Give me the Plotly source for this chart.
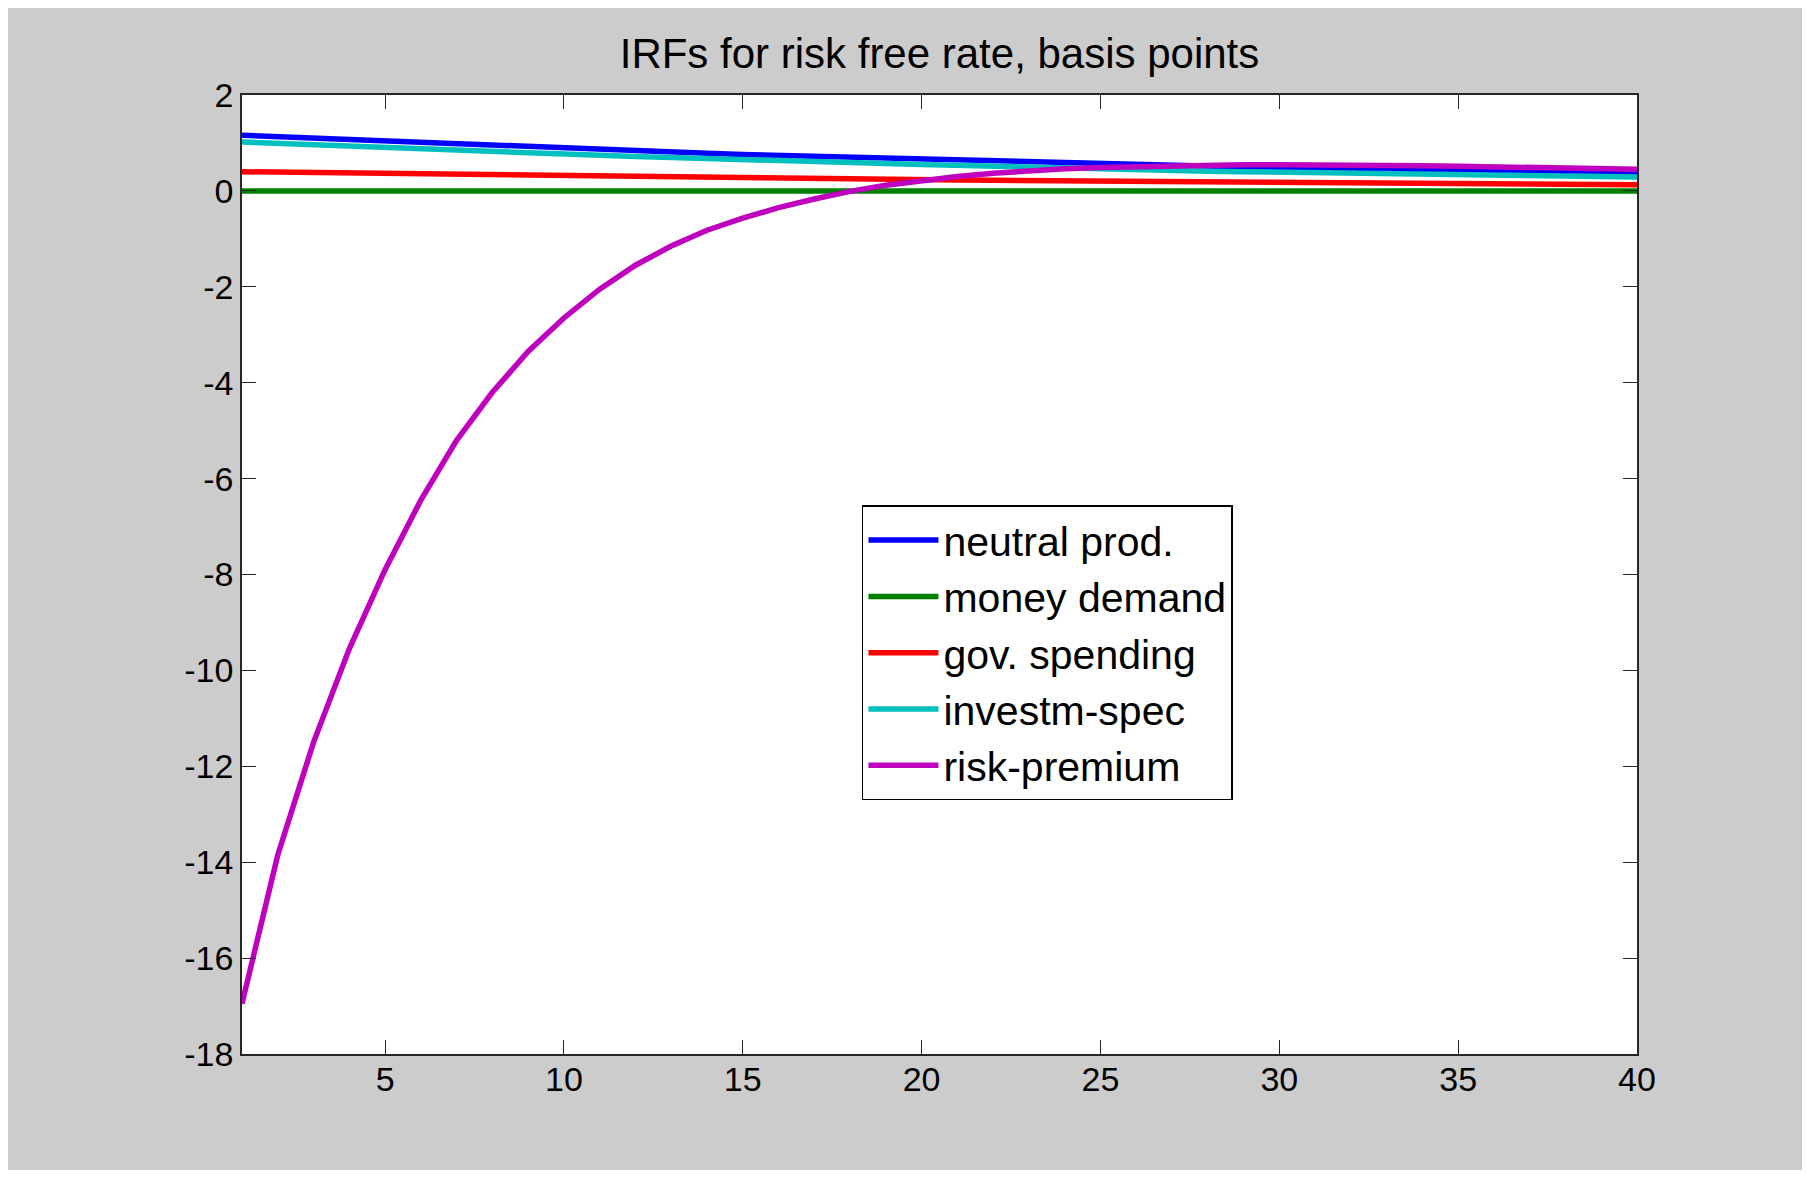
import plotly.graph_objects as go

periods = list(range(1, 41))

neutral_prod = [1.16, 1.13, 1.10, 1.06, 1.03, 1.00, 0.97, 0.94, 0.91, 0.885,
                0.86, 0.835, 0.81, 0.785, 0.76, 0.74, 0.715, 0.695, 0.675, 0.655,
                0.635, 0.615, 0.595, 0.58, 0.56, 0.545, 0.53, 0.515, 0.50, 0.485,
                0.47, 0.455, 0.445, 0.43, 0.42, 0.405, 0.395, 0.385, 0.37, 0.36]

money_demand = [0.0, 0.0, 0.0, 0.0, 0.0, 0.0, 0.0, 0.0, 0.0, 0.0,
                0.0, 0.0, 0.0, 0.0, 0.0, 0.0, 0.0, 0.0, 0.0, 0.0,
                0.0, 0.0, 0.0, 0.0, 0.0, 0.0, 0.0, 0.0, 0.0, 0.0,
                0.0, 0.0, 0.0, 0.0, 0.0, 0.0, 0.0, 0.0, 0.0, 0.0]

gov_spending = [0.40, 0.39, 0.38, 0.37, 0.36, 0.35, 0.34, 0.33, 0.32, 0.31,
                0.30, 0.295, 0.29, 0.28, 0.27, 0.26, 0.25, 0.245, 0.24, 0.23,
                0.225, 0.22, 0.215, 0.21, 0.205, 0.20, 0.195, 0.19, 0.185, 0.18,
                0.175, 0.17, 0.165, 0.16, 0.155, 0.15, 0.145, 0.14, 0.135, 0.13]

investm_spec = [1.02, 0.99, 0.96, 0.93, 0.90, 0.87, 0.845, 0.82, 0.79, 0.765,
                0.74, 0.715, 0.695, 0.67, 0.65, 0.63, 0.61, 0.59, 0.57, 0.55,
                0.53, 0.51, 0.49, 0.47, 0.45, 0.435, 0.42, 0.41, 0.40, 0.39,
                0.38, 0.37, 0.36, 0.35, 0.34, 0.33, 0.32, 0.31, 0.30, 0.29]

risk_premium = [-16.95, -13.85, -11.5, -9.55, -7.9, -6.45, -5.2, -4.2, -3.35, -2.65,
                -2.05, -1.55, -1.15, -0.82, -0.57, -0.35, -0.17, -0.01, 0.12, 0.22,
                0.30, 0.37, 0.42, 0.46, 0.49, 0.51, 0.53, 0.54, 0.545, 0.545,
                0.545, 0.54, 0.535, 0.525, 0.515, 0.505, 0.495, 0.48, 0.465, 0.45]

series_names = ["neutral prod.", "money demand", "gov. spending", "investm-spec", "risk-premium"]
series_colors = ["#0000FF", "#008000", "#FF0000", "#00BFBF", "#BF00BF"]
series_values = [neutral_prod, money_demand, gov_spending, investm_spec, risk_premium]

x_ticks = [5, 10, 15, 20, 25, 30, 35, 40]
y_ticks = [-18, -16, -14, -12, -10, -8, -6, -4, -2, 0, 2]

FONT = "Liberation Sans, Arial, Helvetica, sans-serif"
W, H = 1794, 1162
ML, MR, MT, MB = 234, 165, 87, 116

fig = go.Figure()
for name, color, vals in zip(series_names, series_colors, series_values):
    fig.add_trace(go.Scatter(x=periods, y=vals, mode="lines", name=name,
                             line=dict(color=color, width=5.5)))

axis_common = dict(showgrid=False, zeroline=False, showline=True, linecolor="#262626",
                   linewidth=1.5, mirror="ticks", ticks="inside", ticklen=14,
                   tickwidth=1.3, tickcolor="#262626",
                   tickfont=dict(family=FONT, size=34, color="#000000"))

fig.update_xaxes(range=[1, 40], tickmode="array", tickvals=x_ticks,
                 ticktext=[str(v) for v in x_ticks], ticklabelstandoff=-6, **axis_common)
fig.update_yaxes(range=[-18, 2], tickmode="array", tickvals=y_ticks,
                 ticktext=[str(v) for v in y_ticks], **axis_common)

fig.update_layout(
    width=W, height=H,
    margin=dict(l=ML, r=MR, t=MT, b=MB, pad=0),
    paper_bgcolor="#CCCCCC", plot_bgcolor="#FFFFFF",
    title=dict(text="IRFs for risk free rate, basis points", x=0.5, xref="paper",
               xanchor="center", y=1 - 45 / H, yanchor="middle",
               font=dict(family=FONT, size=42, color="#000000")),
    showlegend=True,
    legend=dict(x=0.4444, y=0.572, xanchor="left", yanchor="top",
                bgcolor="#FFFFFF", bordercolor="#000000", borderwidth=1.5,
                font=dict(family=FONT, size=41, color="#000000"),
                itemwidth=70, tracegroupgap=0),
)

fig.write_html("out.html")
